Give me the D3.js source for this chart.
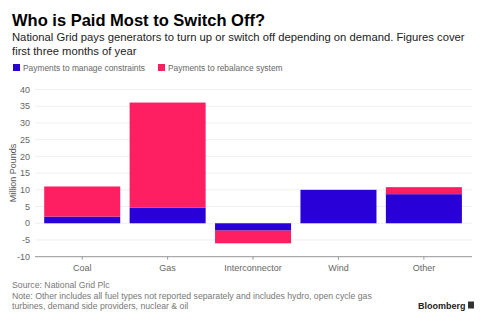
<!DOCTYPE html>
<html><head><meta charset="utf-8">
<script src="https://cdn.jsdelivr.net/npm/d3@7"></script>
<style>body{margin:0;background:#fff;} svg{display:block;font-family:"Liberation Sans",Arial,sans-serif;}</style>
</head><body>
<svg id="c" width="488" height="323"></svg>
<script>
const categories = ["Coal","Gas","Interconnector","Wind","Other"];
const constraints = [2.0, 4.7, -2.2, 10.0, 8.7];
const rebalance = [9.0, 31.4, -3.8, 0, 2.1];
const seriesNames = ["Payments to manage constraints","Payments to rebalance system"];
const yTicks = [-10,-5,0,5,10,15,20,25,30,35,40];
const colors = ["#2a00d8","#fd1f62"];

const svg = d3.select("#c");
const x = d3.scaleBand().domain(categories).range([39.5,466.6]).paddingInner(0.11).paddingOuter(0.055);
const y = d3.scaleLinear().domain([-10,40]).range([256.7,89.5]);

svg.append("text").attr("x",12).attr("y",26).attr("font-size",16.5).attr("font-weight","bold").attr("fill","#000").text("Who is Paid Most to Switch Off?");
svg.append("text").attr("x",12).attr("y",41).attr("font-size",11.25).attr("fill","#222").text("National Grid pays generators to turn up or switch off depending on demand. Figures cover");
svg.append("text").attr("x",12).attr("y",54.5).attr("font-size",11.25).attr("fill","#222").text("first three months of year");

const legX = [13,158];
seriesNames.forEach((n,i)=>{
  svg.append("rect").attr("x",legX[i]).attr("y",64).attr("width",7).attr("height",7).attr("fill",colors[i]);
  svg.append("text").attr("x",legX[i]+10).attr("y",71).attr("font-size",8.4).attr("fill","#666").text(n);
});

// gridlines
svg.append("g").selectAll("line").data(yTicks).join("line")
  .attr("x1",35).attr("x2",472).attr("y1",d=>y(d)).attr("y2",d=>y(d))
  .attr("stroke","#efefef").attr("stroke-width",1);

// y tick labels
svg.append("g").selectAll("text").data(yTicks).join("text")
  .attr("x",30).attr("y",d=>y(d)+3.2).attr("text-anchor","end").attr("font-size",9).attr("fill","#666").text(d=>d);

svg.append("text").attr("transform","translate(16,"+y(15)+") rotate(-90)").attr("text-anchor","middle")
  .attr("font-size",9).attr("fill","#555").text("Million Pounds");

// bars
const data = categories.map((c,i)=>({c, a:constraints[i], b:rebalance[i]}));
const g = svg.append("g");
data.forEach(d=>{
  const segs = [[0,d.a,colors[0]],[d.a,d.a+d.b,colors[1]]];
  segs.forEach(s=>{
    if (s[0]===s[1]) return;
    const y0=y(Math.max(s[0],s[1])), y1=y(Math.min(s[0],s[1]));
    g.append("rect").attr("x",x(d.c)).attr("width",x.bandwidth()).attr("y",y0).attr("height",y1-y0).attr("fill",s[2]);
  });
});

// x axis
const xa = svg.append("g").attr("transform","translate(0,"+y(-10)+")");
xa.append("line").attr("x1",35).attr("x2",472).attr("stroke","#999").attr("stroke-width",1);
xa.selectAll(".t").data(categories).join("line").attr("x1",d=>x(d)+x.bandwidth()/2).attr("x2",d=>x(d)+x.bandwidth()/2)
  .attr("y1",0).attr("y2",3).attr("stroke","#999");
xa.selectAll("text").data(categories).join("text").attr("x",d=>x(d)+x.bandwidth()/2).attr("y",14)
  .attr("text-anchor","middle").attr("font-size",9).attr("fill","#666").text(d=>d);

svg.append("text").attr("x",12).attr("y",288).attr("font-size",8.7).attr("fill","#777").text("Source: National Grid Plc");
svg.append("text").attr("x",12).attr("y",298.5).attr("font-size",8.7).attr("fill","#777").text("Note: Other includes all fuel types not reported separately and includes hydro, open cycle gas");
svg.append("text").attr("x",12).attr("y",308.5).attr("font-size",8.7).attr("fill","#777").text("turbines, demand side providers, nuclear & oil");
svg.append("text").attr("x",418).attr("y",308.5).attr("font-size",9).attr("font-weight","bold").attr("fill","#222").text("Bloomberg");
svg.append("rect").attr("x",468).attr("y",301.5).attr("width",6).attr("height",7).attr("fill","#333");
</script>
</body></html>
